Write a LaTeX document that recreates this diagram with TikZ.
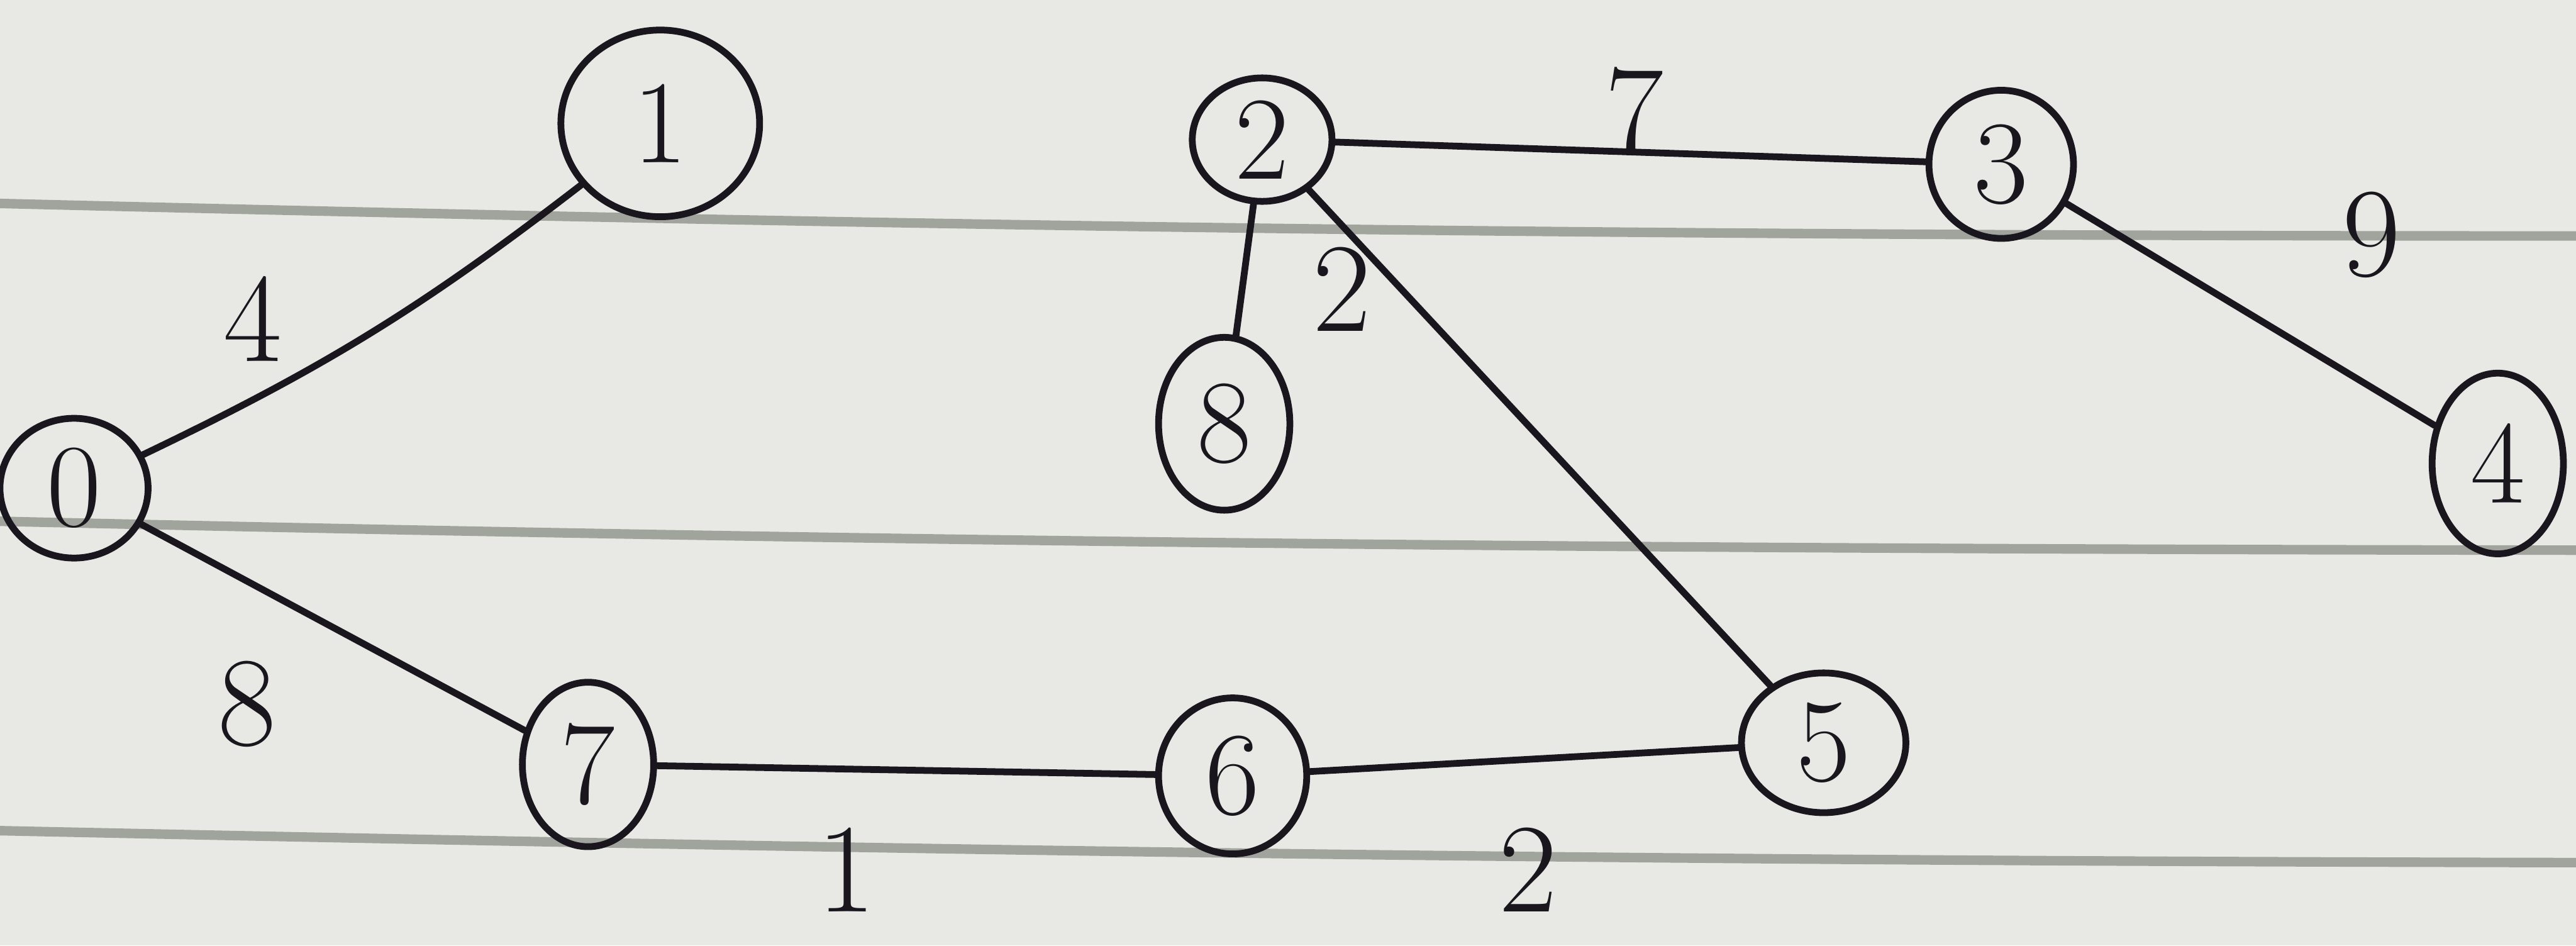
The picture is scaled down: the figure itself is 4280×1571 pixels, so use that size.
\documentclass[tikz,border=0pt]{standalone}
\usetikzlibrary{shapes.geometric}
\definecolor{paper}{RGB}{232,233,228}
\definecolor{rulec}{RGB}{160,164,156}
\definecolor{ink}{RGB}{25,22,30}
\tikzset{
  vtx/.style={ellipse, draw=ink, line width=3.2pt, inner sep=0pt, text=ink,
    font=\fontsize{56}{56}\selectfont},
  edge/.style={draw=ink, line width=3.2pt, line cap=round},
  wlabel/.style={text=ink, font=\fontsize{60}{60}\selectfont},
  ruleline/.style={draw=rulec, line width=4.5pt}
}
\begin{document}
\begin{tikzpicture}[x=0.01cm,y=-0.01cm]
\fill[paper] (0,0) rectangle (4280,1571);
\useasboundingbox (0,0) rectangle (4280,1571);
% ruled lines of the paper
\draw[ruleline] (0,338) .. controls (1500,375) and (2600,392) .. (4280,392);
\draw[ruleline] (0,866) .. controls (1500,900) and (2600,912) .. (4280,914);
\draw[ruleline] (0,1380) .. controls (1500,1412) and (2600,1430) .. (4280,1433);
% vertices
\node[vtx, minimum width=2.46cm, minimum height=2.32cm] (n0) at (123,811) {0};
\node[vtx, minimum width=3.3cm, minimum height=3.1cm] (n1) at (1097,205) {1};
\node[vtx, minimum width=2.32cm, minimum height=2.05cm] (n2) at (2097,232) {2};
\node[vtx, minimum width=2.4cm, minimum height=2.46cm] (n3) at (3325,273) {3};
\node[vtx, minimum width=2.18cm, minimum height=3.0cm] (n4) at (4150,770) {4};
\node[vtx, minimum width=2.73cm, minimum height=2.32cm] (n5) at (3030,1234) {5};
\node[vtx, minimum width=2.46cm, minimum height=2.59cm] (n6) at (2048,1289) {6};
\node[vtx, minimum width=2.18cm, minimum height=2.73cm] (n7) at (977,1270) {7};
\node[vtx, minimum width=2.18cm, minimum height=2.87cm] (n8) at (2034,704) {8};
% edges
\draw[edge] (n0) to[bend right=6] (n1);
\draw[edge] (n0) -- (n7);
\draw[edge] (n7) -- (n6);
\draw[edge] (n6) -- (n5);
\draw[edge] (n2) -- (n5);
\draw[edge] (n2) -- (n8);
\draw[edge] (n2) -- (n3);
\draw[edge] (n3) -- (n4);
% weights
\node[wlabel] (w01) at (420,530) {4};
\node[wlabel] (w07) at (410,1170) {8};
\node[wlabel] (w76) at (1406,1445) {1};
\node[wlabel] (w65) at (2539,1445) {2};
\node[wlabel] (w28) at (2230,480) {2};
\node[wlabel] (w23) at (2716,185) {7};
\node[wlabel] (w34) at (3940,390) {9};
\end{tikzpicture}
\end{document}
